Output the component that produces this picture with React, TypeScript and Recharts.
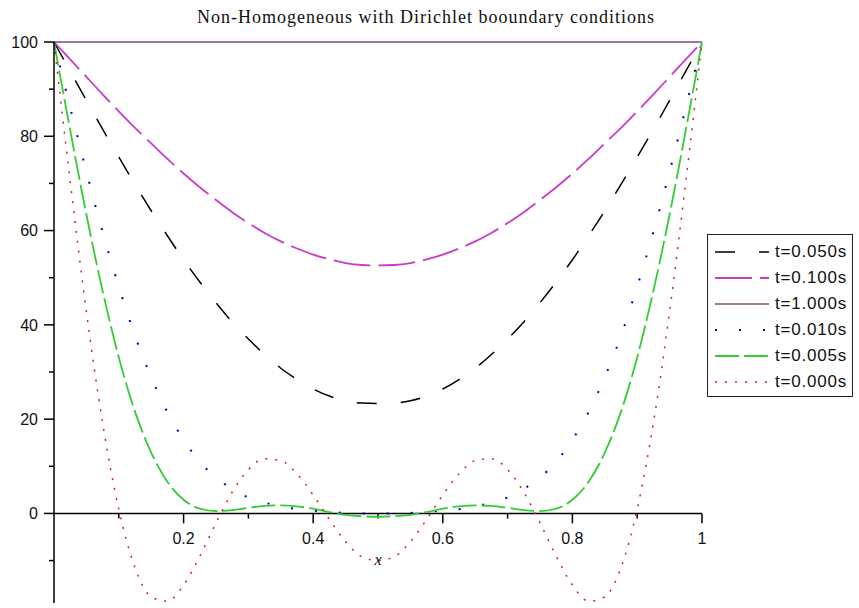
import React from 'react';
import { LineChart, Line, XAxis, YAxis, ReferenceLine, Legend } from 'recharts';

const xs = [0, 0.025, 0.05, 0.075, 0.1, 0.125, 0.15, 0.175, 0.2, 0.225, 0.25, 0.275, 0.3, 0.325, 0.35, 0.375, 0.4, 0.425, 0.45, 0.475, 0.5,
  0.525, 0.55, 0.575, 0.6, 0.625, 0.65, 0.675, 0.7, 0.725, 0.75, 0.775, 0.8, 0.825, 0.85, 0.875, 0.9, 0.925, 0.95, 0.975, 1];

const t050 = [100, 93.8, 87.6, 81.5, 75.6, 69.8, 64.2, 58.9, 53.8, 49.1, 44.7, 40.6, 37.0, 33.7, 30.8, 28.4, 26.4, 24.9, 23.9, 23.4, 23.3,
  23.4, 23.9, 24.9, 26.4, 28.4, 30.8, 33.7, 37.0, 40.6, 44.7, 49.1, 53.8, 58.9, 64.2, 69.8, 75.6, 81.5, 87.6, 93.8, 100];
const t100 = [100, 96.3, 92.6, 88.9, 85.3, 81.8, 78.5, 75.2, 72.1, 69.2, 66.5, 63.9, 61.6, 59.5, 57.7, 56.2, 54.9, 53.9, 53.1, 52.7, 52.6,
  52.7, 53.1, 53.9, 54.9, 56.2, 57.7, 59.5, 61.6, 63.9, 66.5, 69.2, 72.1, 75.2, 78.5, 81.8, 85.3, 88.9, 92.6, 96.3, 100];
const t1000 = [100, 100, 100, 100, 100, 100, 100, 100, 100, 100, 100, 100, 100, 100, 100, 100, 100, 100, 100, 100, 100,
  100, 100, 100, 100, 100, 100, 100, 100, 100, 100, 100, 100, 100, 100, 100, 100, 100, 100, 100, 100];
const t010 = [100, 86.1, 72.5, 59.7, 48.1, 37.7, 28.9, 21.5, 15.6, 11.0, 7.6, 5.2, 3.4, 2.3, 1.5, 0.9, 0.6, 0.3, 0.1, 0.0, 0.0,
  0.0, 0.1, 0.3, 0.6, 0.9, 1.5, 2.3, 3.4, 5.2, 7.6, 11.0, 15.6, 21.5, 28.9, 37.7, 48.1, 59.7, 72.5, 86.1, 100];
const t005 = [100, 81.3, 63.4, 47.2, 33.1, 21.6, 12.9, 6.7, 2.9, 1.0, 0.5, 0.7, 1.2, 1.6, 1.7, 1.5, 1.0, 0.3, -0.3, -0.6, -0.7,
  -0.6, -0.3, 0.3, 1.0, 1.5, 1.7, 1.6, 1.2, 0.7, 0.5, 1.0, 2.9, 6.7, 12.9, 21.6, 33.1, 47.2, 63.4, 81.3, 100];
const t000 = [100, 70.4, 42.8, 19.2, 0.9, -11.5, -17.7, -18.6, -15.2, -9.1, -2.0, 4.5, 9.3, 11.6, 11.2, 8.4, 3.9, -1.3, -6.0, -9.2, -10.0,
  -9.2, -6.0, -1.3, 3.9, 8.4, 11.2, 11.6, 9.3, 4.5, -2.0, -9.1, -15.2, -18.6, -17.7, -11.5, 0.9, 19.2, 42.8, 70.4, 100];

const yTicks = [-10, 0, 10, 20, 30, 40, 50, 60, 70, 80, 90, 100];
const xMajorTicks = [0.2, 0.4, 0.6, 0.8, 1];
const xMajorLabels = ['0.2', '0.4', '0.6', '0.8', '1'];
const xMinorTicks = [0.1, 0.3, 0.5, 0.7, 0.9];

const series = [
  { key: 't050', name: 't=0.050s', color: '#000000', dash: '20 24', width: 1.5 },
  { key: 't100', name: 't=0.100s', color: '#c83cc8', dash: '37 8', width: 1.8 },
  { key: 't1000', name: 't=1.000s', color: '#7a4a7a', dash: undefined, width: 1.5 },
  { key: 't010', name: 't=0.010s', color: '#0000b0', dash: '2 22', width: 2 },
  { key: 't005', name: 't=0.005s', color: '#33cc33', dash: '24 5', width: 1.8 },
  { key: 't000', name: 't=0.000s', color: '#d02020', dash: '2 8', width: 1.5 },
];

const data = xs.map((x, i) => ({
  x,
  t050: t050[i],
  t100: t100[i],
  t1000: t1000[i],
  t010: t010[i],
  t005: t005[i],
  t000: t000[i],
}));

const tickFont = '"Liberation Sans", Arial, sans-serif';

const YTick = (props: any) => {
  const { x, y, payload } = props;
  const v = payload.value;
  const major = v >= 0 && v % 20 === 0;
  return (
    <g>
      <line x1={x - (major ? 10 : 5)} x2={x} y1={y} y2={y} stroke="#000" strokeWidth={1.5} />
      {major && (
        <text x={x - 16} y={y} dy="0.36em" textAnchor="end" fontFamily={tickFont} fontSize={16} fill="#111">
          {v}
        </text>
      )}
    </g>
  );
};

const LegendBox = () => (
  <div
    style={{
      border: '1px solid #222',
      padding: '4px 4px 1px 7px',
      background: '#fff',
      width: 133,
    }}
  >
    {series.map((s) => (
      <div key={s.key} style={{ display: 'flex', alignItems: 'center', height: 26 }}>
        <svg width={54} height={10} style={{ display: 'block' }}>
          <line x1={0} x2={54} y1={5} y2={5} stroke={s.color} strokeWidth={s.width} strokeDasharray={s.dash} />
        </svg>
        <span
          style={{
            marginLeft: 6,
            fontFamily: tickFont,
            fontSize: 17,
            letterSpacing: 0.8,
            color: '#111',
            lineHeight: '26px',
            whiteSpace: 'nowrap',
          }}
        >
          {s.name}
        </span>
      </div>
    ))}
  </div>
);

export default function App() {
  return (
    <div style={{ position: 'absolute', left: 0, top: 0, width: 859, height: 608, background: '#fff' }}>
      <div
        style={{
          position: 'absolute',
          left: 0,
          top: 7,
          width: 852,
          textAlign: 'center',
          fontFamily: '"Liberation Serif", "Times New Roman", serif',
          fontSize: 18,
          letterSpacing: 1,
          color: '#111',
          zIndex: 2,
        }}
      >
        Non-Homogeneous with Dirichlet booundary conditions
      </div>
      <LineChart
        width={859}
        height={608}
        data={data}
        margin={{ top: 42, right: 157, bottom: 5, left: 0 }}
      >
        <XAxis type="number" dataKey="x" domain={[0, 1]} hide />
        <YAxis
          type="number"
          domain={[-19, 100]}
          ticks={yTicks}
          interval={0}
          width={54}
          tickSize={0}
          tickMargin={0}
          tickLine={false}
          axisLine={{ stroke: '#000', strokeWidth: 1.5 }}
          tick={<YTick />}
        />
        <ReferenceLine y={0} stroke="#000" strokeWidth={1.5} />
        {xMajorTicks.map((v, i) => (
          <ReferenceLine
            key={'maj' + v}
            segment={[{ x: v, y: 0 }, { x: v, y: -2.1 }]}
            stroke="#000"
            strokeWidth={1.5}
            label={{ value: xMajorLabels[i], position: 'bottom', offset: 9, fill: '#111', fontSize: 16, fontFamily: tickFont }}
          />
        ))}
        {xMinorTicks.map((v) => (
          <ReferenceLine
            key={'min' + v}
            segment={[{ x: v, y: 0 }, { x: v, y: -1.1 }]}
            stroke="#000"
            strokeWidth={1.5}
            label={
              v === 0.5
                ? { value: 'x', position: 'bottom', offset: 35, fill: '#111', fontSize: 16, fontStyle: 'italic', fontFamily: '"Liberation Serif", serif' }
                : undefined
            }
          />
        ))}
        {series.map((s) => (
          <Line
            key={s.key}
            type="monotone"
            dataKey={s.key}
            name={s.name}
            stroke={s.color}
            strokeWidth={s.width}
            strokeDasharray={s.dash}
            dot={false}
            activeDot={false}
            isAnimationActive={false}
          />
        ))}
        <Legend
          layout="vertical"
          align="center"
          verticalAlign="middle"
          content={<LegendBox />}
          wrapperStyle={{ left: 707, top: 234, width: 'auto' }}
        />
      </LineChart>
    </div>
  );
}
